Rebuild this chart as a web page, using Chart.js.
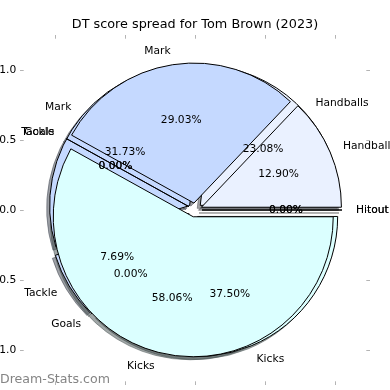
<!DOCTYPE html>
<html><head><meta charset="utf-8">
<script src="https://cdn.jsdelivr.net/npm/chart.js@4.4.0/dist/chart.umd.min.js"></script>
<style>
html,body{margin:0;padding:0;background:#fff;}
#wrap{position:relative;width:390px;height:390px;overflow:hidden;background:#fff;}
canvas{position:absolute;left:0;top:0;}
</style></head><body>
<div id="wrap"><canvas id="axes" width="390" height="390"></canvas><canvas id="pies" width="390" height="390"></canvas></div>
<script>
// ---- data ----
const chartTitle = 'DT score spread for Tom Brown (2023)';
const categories = ['Hitout', 'Handballs', 'Mark', 'Tackle', 'Goals', 'Kicks'];
const seriesTop = [0, 4, 9, 0, 0, 18];      // 0.00 / 12.90 / 29.03 / 0.00 / 0.00 / 58.06 %
const seriesUnder = [0, 24, 33, 8, 0, 39];  // 0.00 / 23.08 / 31.73 / 7.69 / 0.00 / 37.50 %
const sliceColors = ['#ffffff', '#eaf1ff', '#c5d9ff', '#c8dafc', '#ffffff', '#dbffff'];
const axisTicks = [-1.0, -0.5, 0.0, 0.5, 1.0];
const watermark = 'Dream-Stats.com';

// ---- style ----
const FONT = "'DejaVu Sans', 'Liberation Sans', sans-serif";
const LIM = 1.25, EXPLODE = 0.05, SHADOW = -0.0214, LABEL_D = 1.1, PCT_D = 0.6;

const fmt = v => (Math.abs(v) < 1e-9 ? '0.0' : (v < 0 ? '\u2212' : '') + Math.abs(v).toFixed(1));
const shade = hex => {
  const n = parseInt(hex.slice(1), 16);
  const r = (n >> 16) & 255, g = (n >> 8) & 255, b = n & 255;
  return `rgba(${Math.round(r * 0.3)},${Math.round(g * 0.3)},${Math.round(b * 0.3)},0.5)`;
};

const tickMarks = {
  id: 'tickMarks',
  afterDraw(c) {
    const {ctx, chartArea: a, scales: {x, y}} = c;
    const L = 3.7;
    ctx.save();
    ctx.strokeStyle = '#b4b4b4';
    ctx.lineWidth = 1;
    ctx.beginPath();
    x.ticks.forEach(t => {
      const p = Math.round(x.getPixelForValue(t.value)) + 0.5;
      ctx.moveTo(p, a.top); ctx.lineTo(p, a.top + L);
      ctx.moveTo(p, a.bottom); ctx.lineTo(p, a.bottom - L);
    });
    y.ticks.forEach(t => {
      const p = Math.round(y.getPixelForValue(t.value)) + 0.5;
      ctx.moveTo(a.left, p); ctx.lineTo(a.left + L, p);
      ctx.moveTo(a.right, p); ctx.lineTo(a.right - L, p);
    });
    ctx.stroke();
    ctx.restore();
  }
};

const tickFont = {family: FONT, size: 10.7};
const axChart = new Chart(document.getElementById('axes'), {
  type: 'scatter',
  data: {datasets: [{data: []}]},
  options: {
    responsive: false, animation: false, devicePixelRatio: 1,
    layout: {padding: 0},
    plugins: {
      legend: {display: false}, tooltip: {enabled: false},
      title: {display: true, text: chartTitle, color: '#000',
        font: {family: FONT, size: 12.8, weight: 'normal'}, padding: {top: 17, bottom: 2.64}}
    },
    scales: {
      x: {type: 'linear', position: 'bottom', min: -LIM, max: LIM,
        afterBuildTicks: s => { s.ticks = axisTicks.map(v => ({value: v})); },
        afterFit: s => { s.height = 5; s.paddingLeft = 0; s.paddingRight = 0; },
        grid: {display: false, drawTicks: false}, border: {display: false},
        ticks: {font: tickFont, color: '#000', padding: 3.7, maxRotation: 0, autoSkip: false, callback: v => fmt(v)}},
      y: {type: 'linear', position: 'left', min: -LIM, max: LIM,
        afterBuildTicks: s => { s.ticks = axisTicks.map(v => ({value: v})); },
        afterFit: s => { s.width = 20; s.paddingTop = 0; s.paddingBottom = 0; },
        grid: {display: false, drawTicks: false}, border: {display: false},
        ticks: {font: tickFont, color: '#000', padding: 3.7, autoSkip: false, callback: v => fmt(v)}},
      y2: {type: 'linear', position: 'right', min: -LIM, max: LIM,
        afterFit: s => { s.width = 20; s.paddingTop = 0; s.paddingBottom = 0; },
        grid: {display: false, drawTicks: false}, border: {display: false},
        ticks: {display: false}}
    }
  },
  plugins: [tickMarks]
});

function mapper() {
  const xs = axChart.scales.x, ys = axChart.scales.y;
  return {X: v => xs.getPixelForValue(v), Y: v => ys.getPixelForValue(v)};
}

// Chart.js draws clockwise from the given rotation; reverse to get matplotlib's counter-clockwise order from 0°.
const rev = a => a.slice().reverse();
const pieLabels = rev(categories);
const faceColors = rev(sliceColors);
const shadowColors = faceColors.map(shade);

const pieGeometry = {
  id: 'pieGeometry',
  beforeDatasetsDraw(chart) {
    const {X, Y} = mapper();
    const R = X(1) - X(0);
    chart.data.datasets.forEach((ds, di) => {
      const meta = chart.getDatasetMeta(di);
      const s = ds.isShadow ? SHADOW : 0;
      meta.data.forEach(el => {
        const th = -(el.startAngle + el.endAngle) / 2;
        el.x = X(EXPLODE * Math.cos(th) + s);
        el.y = Y(EXPLODE * Math.sin(th) + s);
        el.outerRadius = R;
        el.innerRadius = 0;
      });
    });
  },
  afterDatasetDraw(chart, args) {
    // zero-size wedges are drawn by matplotlib as a single edge line
    const {X} = mapper();
    const R = X(1) - X(0);
    const ds = chart.data.datasets[args.index];
    const ctx = chart.ctx;
    ctx.save();
    args.meta.data.forEach((el, i) => {
      if (el.endAngle - el.startAngle !== 0) return;
      ctx.strokeStyle = ds.isShadow ? ds.backgroundColor[i] : '#000';
      ctx.lineWidth = 1;
      ctx.beginPath();
      ctx.moveTo(el.x, el.y);
      ctx.lineTo(el.x + R * Math.cos(el.startAngle), el.y + R * Math.sin(el.startAngle));
      ctx.stroke();
    });
    ctx.restore();
  },
  afterDraw(chart) {
    const {X, Y} = mapper();
    const ctx = chart.ctx;
    ctx.save();
    ctx.font = `10.7px ${FONT}`;
    ctx.fillStyle = '#000';
    ctx.textBaseline = 'middle';
    chart.data.datasets.forEach((ds, di) => {
      if (ds.isShadow) return;
      const meta = chart.getDatasetMeta(di);
      const total = ds.data.reduce((a, b) => a + b, 0);
      meta.data.forEach((el, i) => {
        const th = -(el.startAngle + el.endAngle) / 2;
        const cx = EXPLODE * Math.cos(th), cy = EXPLODE * Math.sin(th);
        const lx = cx + LABEL_D * Math.cos(th), ly = cy + LABEL_D * Math.sin(th);
        ctx.textAlign = lx > 0 ? 'left' : 'right';
        ctx.fillText(chart.data.labels[i], X(lx), Y(ly));
        ctx.textAlign = 'center';
        ctx.fillText((ds.data[i] / total * 100).toFixed(2) + '%', X(cx + PCT_D * Math.cos(th)), Y(cy + PCT_D * Math.sin(th)));
      });
    });
    ctx.font = `12.6px ${FONT}`;
    ctx.fillStyle = 'rgba(110,110,110,0.85)';
    ctx.textAlign = 'left';
    ctx.fillText(watermark, 0, 380);
    ctx.restore();
  }
};

const wedge = (vals, shadow) => ({
  data: rev(vals),
  isShadow: shadow,
  backgroundColor: shadow ? shadowColors : faceColors,
  borderColor: shadow ? shadowColors : '#000',
  borderWidth: 1,
  borderJoinStyle: 'miter',
  clip: false
});

new Chart(document.getElementById('pies'), {
  type: 'pie',
  data: {
    labels: pieLabels,
    datasets: [wedge(seriesTop, false), wedge(seriesUnder, false), wedge(seriesTop, true), wedge(seriesUnder, true)]
  },
  options: {
    responsive: false, animation: false, devicePixelRatio: 1,
    rotation: 90,
    plugins: {legend: {display: false}, tooltip: {enabled: false}}
  },
  plugins: [pieGeometry]
});
</script>
</body></html>
